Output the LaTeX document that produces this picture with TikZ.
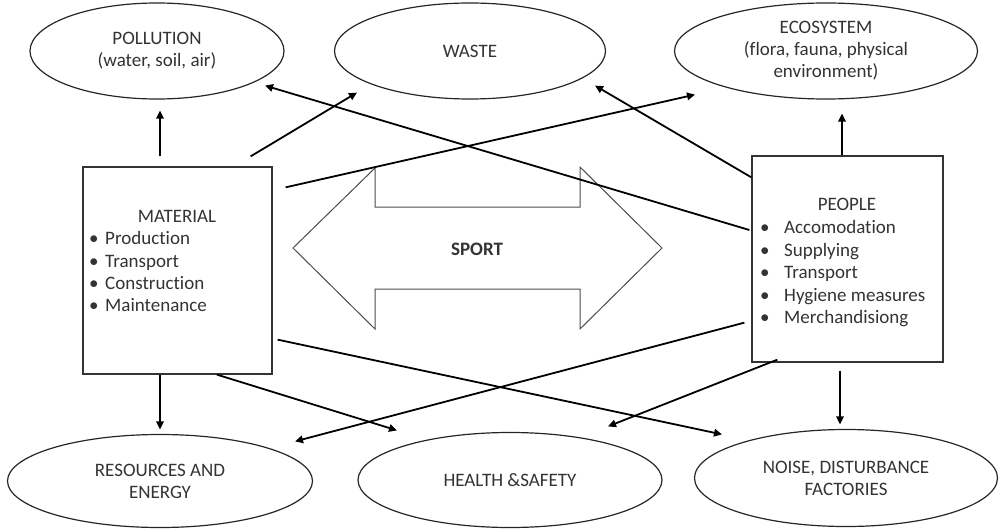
\documentclass[tikz,border=0pt]{standalone}
\usepackage{fontspec}
\setmainfont{Carlito}[Ligatures=NoCommon]
\usetikzlibrary{shapes.geometric,arrows.meta}
\begin{document}
\begin{tikzpicture}[x=1pt,y=-1pt,
  every node/.style={text=black!80, font=\fontsize{19}{22}\selectfont},
  ell/.style={draw=black!85, line width=1.2pt, ellipse, inner sep=0pt, align=center},
  boxn/.style={draw=black!80, line width=1.3pt, rectangle, inner sep=0pt},
  conn/.style={line width=1.8pt, -{Triangle[length=8pt,width=7.5pt]}},
  txt/.style={anchor=base west, inner sep=0pt},
  sportarrow/.style={draw=black!70, line width=1pt, fill=white},
]
\useasboundingbox (0,0) rectangle (1001,532);

% ellipses
\node[ell, minimum width=254pt, minimum height=96pt] (pol) at (157,51) {POLLUTION\\(water, soil, air)};
\node[ell, minimum width=271pt, minimum height=96pt] (was) at (470,51) {WASTE};
\node[ell, minimum width=303pt, minimum height=96pt] (eco) at (826,51) {ECOSYSTEM\\(flora, fauna, physical\\environment)};
\node[ell, minimum width=305pt, minimum height=93pt] (res) at (160,481) {RESOURCES AND\\ENERGY};
\node[ell, minimum width=304pt, minimum height=95pt] (hea) at (510,480) {HEALTH \&SAFETY};
\node[ell, minimum width=303pt, minimum height=97pt] (noi) at (846,478) {NOISE, DISTURBANCE\\FACTORIES};

% boxes
\node[boxn, minimum width=189pt, minimum height=207pt] (mat) at (177.5,270.5) {};
\node[boxn, minimum width=191pt, minimum height=206pt] (peo) at (847.5,259) {};

% material text
\node[txt, anchor=base] (matt) at (177,222) {MATERIAL};
\node[txt] (m1b) at (89,244) {•};
\node[txt] (m1) at (105,244) {Production};
\node[txt] (m2b) at (89,267) {•};
\node[txt] (m2) at (105,267) {Transport};
\node[txt] (m3b) at (89,289) {•};
\node[txt] (m3) at (105,289) {Construction};
\node[txt] (m4b) at (89,311) {•};
\node[txt] (m4) at (105,311) {Maintenance};

% people text
\node[txt, anchor=base] (peot) at (847,210) {PEOPLE};
\node[txt] (p1b) at (760,233) {•};
\node[txt] (p1) at (784,233) {Accomodation};
\node[txt] (p2b) at (760,256) {•};
\node[txt] (p2) at (784,256) {Supplying};
\node[txt] (p3b) at (760,278) {•};
\node[txt] (p3) at (784,278) {Transport};
\node[txt] (p4b) at (760,301) {•};
\node[txt] (p4) at (784,301) {Hygiene measures};
\node[txt] (p5b) at (760,323) {•};
\node[txt] (p5) at (784,323) {Merchandisiong};

% sport double arrow
\draw[sportarrow] (293,248) -- (375,168) -- (375,207) -- (580,207) -- (580,167) -- (662,248)
  -- (580,329) -- (580,289) -- (375,289) -- (375,329) -- cycle;
\node[font=\fontsize{19}{22}\selectfont\bfseries] (sport) at (477,249) {SPORT};

% connectors
\draw[conn] ([xshift=-17.5pt,yshift=10pt]mat.north) -- ([xshift=3pt,yshift=-11pt]pol.south);
\draw[conn] ([xshift=-22pt,yshift=10pt]mat.north east) -- ([xshift=-113pt,yshift=7pt]was.south);
\draw[conn] ([yshift=-22pt]peo.north west) -- ([xshift=125pt,yshift=14pt]was.south);
\draw[conn] ([xshift=-2pt,yshift=29pt]peo.west) -- ([xshift=108pt,yshift=14pt]pol.south);
\draw[conn] ([xshift=13pt,yshift=-21pt]mat.north east) -- ([xshift=-131pt,yshift=5pt]eco.south);
\draw[conn] ([xshift=-5.5pt]peo.north) -- ([xshift=16pt,yshift=-14pt]eco.south);
\draw[conn] ([xshift=-17.5pt]mat.south) -- ([yshift=4.5pt]res.north);
\draw[conn] ([xshift=39.5pt]mat.south) -- ([xshift=-113pt,yshift=1.5pt]hea.north);
\draw[conn] ([xshift=5pt,yshift=35pt]mat.south east) -- ([xshift=-124pt,yshift=-5.5pt]noi.north);
\draw[conn] ([xshift=-7pt,yshift=40pt]peo.south west) -- ([xshift=135pt,yshift=-7.5pt]res.north);
\draw[conn] ([xshift=26pt,yshift=3pt]peo.south west) -- ([xshift=98pt,yshift=5.5pt]hea.north);
\draw[conn] ([xshift=-7.5pt,yshift=-8pt]peo.south) -- ([xshift=-6pt,yshift=4.5pt]noi.north);
\end{tikzpicture}
\end{document}
